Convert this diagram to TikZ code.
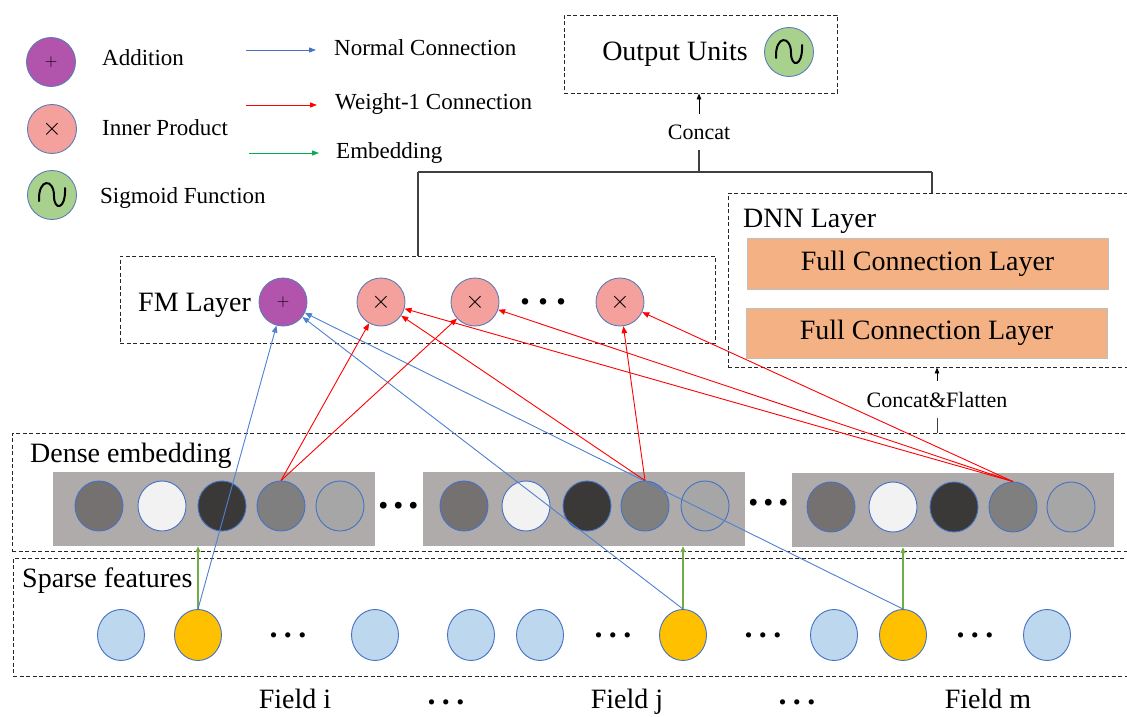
\documentclass[tikz,border=0pt]{standalone}
\usepackage{fontspec}
\setmainfont{Liberation Serif}
\usetikzlibrary{shapes.geometric,arrows.meta}
\newcommand\fsz[1]{\fontsize{#1}{#1}\selectfont}
\newcommand\sigwave[1]{\draw[sigline] ([shift={(-13,6)}]#1.center) .. controls ([shift={(-14,-17)}]#1.center) and ([shift={(2,-17)}]#1.center) .. ([shift={(2,1)}]#1.center) .. controls ([shift={(2,16)}]#1.center) and ([shift={(14,15)}]#1.center) .. ([shift={(13,-7)}]#1.center);}
\definecolor{lnblue}{HTML}{4F81D0}
\definecolor{lgblue}{HTML}{4472C4}
\definecolor{lggreen}{HTML}{00B050}
\definecolor{agreen}{HTML}{70AD47}
\definecolor{addc}{HTML}{B254AC}
\definecolor{mulc}{HTML}{F4A09C}
\definecolor{sigc}{HTML}{A9D18E}
\definecolor{fclc}{HTML}{F4B183}
\definecolor{fclb}{HTML}{BFBFBF}
\definecolor{grayrect}{HTML}{AFABAB}
\definecolor{e1}{HTML}{767171}
\definecolor{e2}{HTML}{F2F2F2}
\definecolor{e3}{HTML}{3B3838}
\definecolor{e4}{HTML}{7F7F7F}
\definecolor{e5}{HTML}{A6A6A6}
\definecolor{spb}{HTML}{BDD7EE}
\definecolor{spy}{HTML}{FFC000}
\definecolor{cbord}{HTML}{4472C4}
\definecolor{obord}{HTML}{5B7DB8}
\tikzset{
 dbox/.style={draw=black!85, line width=0.9pt, dash pattern=on 4pt off 2.5pt, inner sep=0pt},
 opn/.style={circle, draw=obord, line width=0.9pt, inner sep=0pt, minimum size=48pt},
 emb/.style={ellipse, draw=cbord, line width=0.9pt, inner sep=0pt, minimum width=48pt, minimum height=50pt},
 spn/.style={ellipse, draw=cbord, line width=0.9pt, inner sep=0pt, minimum width=47pt, minimum height=51pt},
 grect/.style={fill=grayrect, draw=none, inner sep=0pt, minimum width=322pt, minimum height=74pt},
 fclbox/.style={fill=fclc, draw=fclb, line width=1pt, inner sep=0pt, minimum width=361pt, minimum height=51pt, font={\fsz{28}}},
 lbl/.style={inner sep=0pt, font={\fsz{28}}},
 lgl/.style={inner sep=0pt, font={\fsz{23}}, anchor=base west},
 bluearr/.style={draw=lnblue, line width=0.9pt, -{Triangle[length=7pt,width=5.5pt]}},
 redarr/.style={draw=red, line width=0.9pt, -{Triangle[length=7pt,width=5.5pt]}},
 greenarr/.style={draw=agreen, line width=1.3pt, -{Triangle[length=6pt,width=5pt]}},
 blkarr/.style={draw=black, line width=0.9pt, -{Triangle[length=6pt,width=4.5pt]}},
 cline/.style={draw=black!75, line width=1.2pt},
 sigline/.style={draw=black, line width=2pt, line cap=round},
 dotsn/.style={inner sep=0pt, font={\fsz{#1}\bfseries}},
}
\begin{document}
\begin{tikzpicture}[x=1pt,y=-1pt]
\clip (0,0) rectangle (1127,717);
\fill[white] (0,0) rectangle (1127,717);

% ---------- legend ----------
\node[opn, fill=addc, minimum size=49pt] (lgadd) at (51,62) {\fsz{18}$+$};
\node[opn, fill=mulc, minimum size=49pt] (lgmul) at (52,129) {\fsz{24}$\times$};
\node[opn, fill=sigc, minimum size=49pt] (lgsig) at (52,195) {};
\sigwave{lgsig}
\node[lgl] (lgt1) at (102,66) {Addition};
\node[lgl] (lgt2) at (102,135) {Inner Product};
\node[lgl] (lgt3) at (100,203) {Sigmoid Function};
\coordinate (la1s) at (246,50); \coordinate (la1e) at (316,50);
\coordinate (la2s) at (246,105); \coordinate (la2e) at (317,105);
\coordinate (la3s) at (249,153); \coordinate (la3e) at (319,153);
\draw[draw=lgblue, line width=0.9pt, -{Triangle[length=7pt,width=5pt]}] (la1s) -- (la1e);
\draw[draw=red, line width=0.9pt, -{Triangle[length=7pt,width=5pt]}] (la2s) -- (la2e);
\draw[draw=lggreen, line width=0.9pt, -{Triangle[length=7pt,width=5pt]}] (la3s) -- (la3e);
\node[lgl] (lgt4) at (334,56) {Normal Connection};
\node[lgl] (lgt5) at (335,110) {Weight-1 Connection};
\node[lgl] (lgt6) at (336,158) {Embedding};

% ---------- output ----------
\node[dbox, minimum width=273pt, minimum height=78pt] (outbox) at (700.5,54) {};
\node[lbl, anchor=base] (outtxt) at (675,61) {Output Units};
\node[opn, fill=sigc, minimum size=49pt] (outsig) at (789,52) {};
\sigwave{outsig}
\node[inner sep=10.5pt, font={\fsz{22}}, anchor=base] (concat) at (699,139) {Concat};
\draw[blkarr] (concat.north) -- (concat.north |- outbox.south);
\coordinate (jc) at (699,172);
\coordinate (jl) at (418,172);
\coordinate (jr) at (932,172);

% ---------- FM layer ----------
\node[dbox, minimum width=595pt, minimum height=87pt] (fmbox) at (417.5,299.5) {};
\node[lbl, anchor=base west] (fmtxt) at (138,311) {FM Layer};
\node[opn, fill=addc] (add) at (283,302) {\fsz{18}$+$};
\node[opn, fill=mulc] (m1) at (381,302) {\fsz{28}$\times$};
\node[opn, fill=mulc] (m2) at (475,302) {\fsz{28}$\times$};
\node[dotsn=40] (fmdots) at (543,302) {.\kern8pt.\kern8pt.};
\node[opn, fill=mulc] (m4) at (620,302) {\fsz{28}$\times$};

% ---------- DNN layer ----------
\node[dbox, minimum width=412pt, minimum height=174pt] (dnnbox) at (934,280) {};
\node[lbl, anchor=base west] (dnntxt) at (743,227) {DNN Layer};
\node[fclbox] (fcl1) at (927.5,263.5) {Full Connection Layer};
\node[fclbox, minimum height=50pt] (fcl2) at (926.5,333) {Full Connection Layer};
\node[inner sep=11pt, font={\fsz{22}}, anchor=base] (cflat) at (937,407) {Concat\&Flatten};
\draw[blkarr] (cflat.north) -- (cflat.north |- dnnbox.south);

% concat connectors
\draw[cline] (concat.south) -- (jc);
\draw[cline] (jl) -- (jr);
\draw[cline] (jl) -- (jl |- fmbox.north);
\draw[cline] (jr) -- (jr |- dnnbox.north);

% ---------- dense embedding ----------
\node[dbox, minimum width=1128pt, minimum height=118pt] (densebox) at (576,492) {};
\draw[cline, line width=1pt] (cflat.south) -- (cflat.south |- densebox.north);
\node[lbl, anchor=base west] (densetxt) at (30,462) {Dense embedding};
\node[grect] (g1rect) at (214,509) {};
\node[grect] (g2rect) at (584,509) {};
\node[grect] (g3rect) at (953,510) {};
\foreach \x [count=\i] in {99,162,222,281,340} \node[emb, fill=e\i] (g1c\i) at (\x,506) {};
\foreach \x [count=\i] in {464,526,587,645,705} \node[emb, fill=e\i] (g2c\i) at (\x,506) {};
\foreach \x [count=\i] in {831,893,954,1013,1071} \node[emb, fill=e\i] (g3c\i) at (\x,507) {};
\node[dotsn=42] (edots1) at (399,506) {.\kern4.5pt.\kern4.5pt.};
\node[dotsn=42] (edots2) at (769,503) {.\kern4.5pt.\kern4.5pt.};

% ---------- sparse features ----------
\node[dbox, minimum width=1127pt, minimum height=118pt] (sparsebox) at (576.5,617) {};
\node[lbl, anchor=base west] (sparsetxt) at (22,587) {Sparse features};
\node[spn, fill=spb] (s1) at (121,635) {};
\node[spn, fill=spy] (s2) at (198,635) {};
\node[dotsn=32] (sdots1) at (288,635) {.\kern6.4pt.\kern6.4pt.};
\node[spn, fill=spb] (s3) at (375,635) {};
\node[spn, fill=spb] (s4) at (471,635) {};
\node[spn, fill=spb] (s5) at (540,635) {};
\node[dotsn=32] (sdots2) at (613,635) {.\kern6.4pt.\kern6.4pt.};
\node[spn, fill=spy] (s6) at (683,635) {};
\node[dotsn=32] (sdots3) at (763,635) {.\kern6.4pt.\kern6.4pt.};
\node[spn, fill=spb] (s7) at (834,635) {};
\node[spn, fill=spy] (s8) at (903,635) {};
\node[dotsn=32] (sdots4) at (975,635) {.\kern6.4pt.\kern6.4pt.};
\node[spn, fill=spb] (s9) at (1047,635) {};

% field labels
\node[lbl, anchor=base] (fi) at (295,708) {Field i};
\node[dotsn=32] (fdots1) at (446,702) {.\kern6.4pt.\kern6.4pt.};
\node[lbl, anchor=base] (fj) at (627,708) {Field j};
\node[dotsn=32] (fdots2) at (797,702) {.\kern6.4pt.\kern6.4pt.};
\node[lbl, anchor=base] (fm) at (988,708) {Field m};

% ---------- connections ----------
\draw[greenarr] (s2.north) -- (s2.north |- g1rect.south);
\draw[greenarr] (s6.north) -- (s6.north |- g2rect.south);
\draw[greenarr] (s8.north) -- (s8.north |- g3rect.south);

\draw[bluearr] (s2.north) -- (add);
\draw[bluearr] (s6.north) -- (add);
\draw[bluearr] (s8.north) -- (add);

\draw[redarr] (g1c4.north) -- (m1);
\draw[redarr] (g1c4.north) -- (m2);
\draw[redarr] (g2c4.north) -- (m1);
\draw[redarr] (g2c4.north) -- (m4);
\draw[redarr] (g3c4.north) -- (m1);
\draw[redarr] (g3c4.north) -- (m2);
\draw[redarr] (g3c4.north) -- (m4);
\end{tikzpicture}
\end{document}
